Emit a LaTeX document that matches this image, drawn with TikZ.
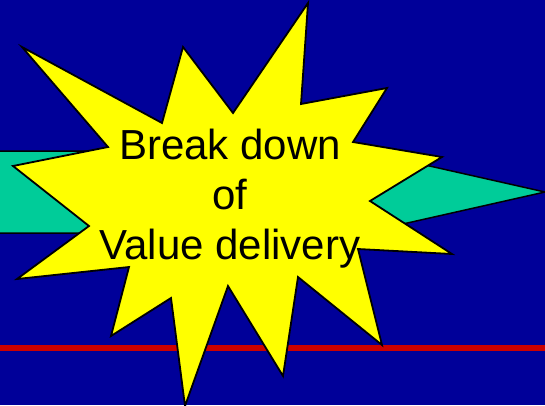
\documentclass[tikz,border=0pt]{standalone}
\usepackage{fontspec}
\setmainfont{Liberation Sans}
\usetikzlibrary{positioning}
\definecolor{slidebg}{HTML}{000099}
\definecolor{teal}   {HTML}{00CC99}
\definecolor{burst}  {HTML}{FFFF00}
\definecolor{rule}   {HTML}{CC0000}
\tikzset{
  arrowband/.style={fill=teal, draw=black, line width=1.5pt, line join=miter},
  burstshape/.style={fill=burst, draw=black, line width=1.8pt, line join=miter},
  redrule/.style={draw=rule, line width=5.5pt},
  bursttext/.style={text=black, align=center,
                    font=\fontsize{42}{50}\selectfont}
}

\begin{document}
\begin{tikzpicture}[x=1pt, y=-1pt]
  % slide background
  \fill[slidebg] (0,0) rectangle (545,405);
  \useasboundingbox (0,0) rectangle (545,405);
  % band arrow and red rule
  \draw[arrowband] (-2,151) -- (363,151) -- (545,192) -- (363,233) -- (-2,233);
  \coordinate (ruleL) at (0,348);
  \coordinate (ruleR) at (545,348);
  \draw[redrule] (ruleL) -- (ruleR);
  % explosion
  \draw[burstshape] (22,47) -- (162,123) -- (183,47) -- (233,113)
    -- (308,3) -- (301,104) -- (387,88) -- (353,142) -- (442,157)
    -- (370,201) -- (452,254) -- (358,249) -- (382,345) -- (298,277)
    -- (283,376) -- (228,286) -- (185,406) -- (171,298) -- (111,336)
    -- (129,267) -- (17,279) -- (89,226) -- (13,166) -- (108,147) -- cycle;
  \node[bursttext] (label) at (230,199) {Break down\\of\\Value delivery};
\end{tikzpicture}
\end{document}
